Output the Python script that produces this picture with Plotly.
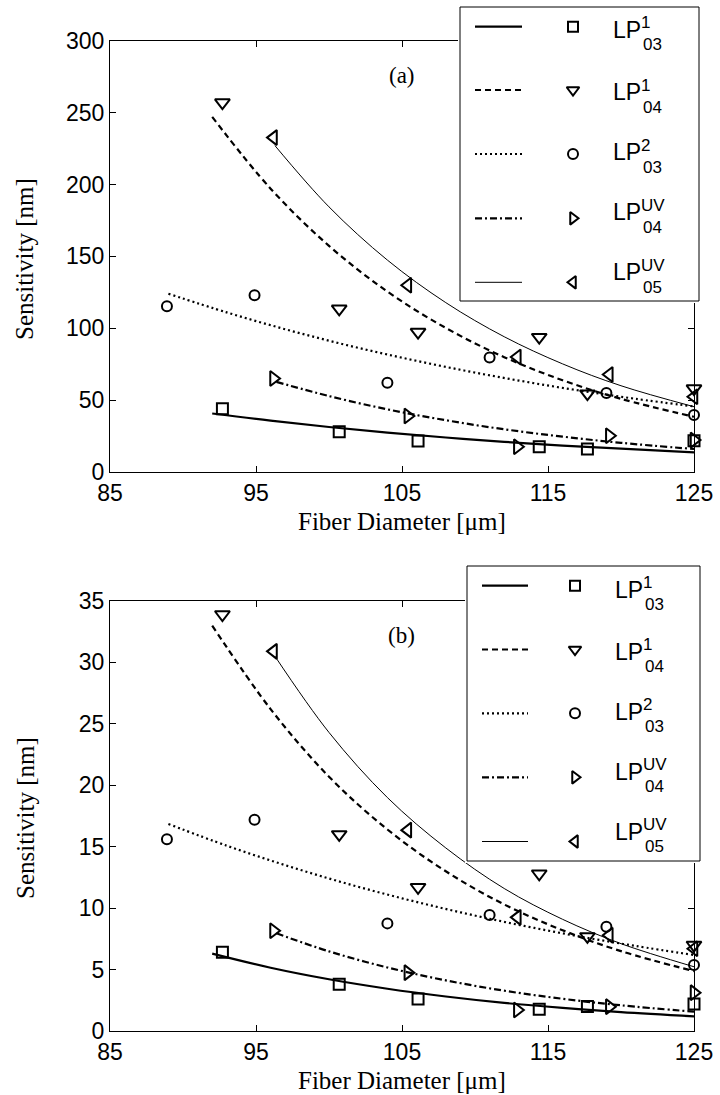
import plotly.graph_objects as go

# ---------------- data ----------------
# measured points, panel (a)
a_x_lp031 = [92.7, 100.7, 106.1, 114.4, 117.7, 125.0]
a_y_lp031 = [44.0, 28.0, 21.5, 17.6, 16.0, 21.7]
a_x_lp041 = [92.7, 100.7, 106.1, 114.4, 117.7, 125.0]
a_y_lp041 = [257.0, 113.5, 97.3, 93.8, 54.5, 58.0]
a_x_lp032 = [88.9, 94.9, 104.0, 111.0, 119.0, 125.0]
a_y_lp032 = [115.3, 122.9, 62.0, 79.6, 55.0, 39.6]
a_x_uv = [96.2, 105.4, 112.9, 119.2, 125.0]
a_y_lp04uv = [65.0, 39.0, 17.6, 25.2, 22.2]
a_y_lp05uv = [232.6, 129.9, 80.0, 67.8, 52.3]

# fitted curves, panel (a)
a_fx_lp031 = [92, 96, 100, 104, 108, 112, 116, 120, 125]
a_fy_lp031 = [40.7, 35.7, 31.3, 27.4, 24.0, 21.0, 18.4, 16.2, 13.7]
a_fx_lp041 = [92, 96, 100, 104, 108, 112, 116, 120, 125]
a_fy_lp041 = [247.0, 197.1, 157.3, 125.5, 100.2, 79.9, 63.8, 50.9, 38.4]
a_fx_lp032 = [89, 93, 97, 101, 105, 109, 113, 117, 121, 125]
a_fy_lp032 = [124.0, 111.0, 99.3, 88.8, 79.5, 71.1, 63.6, 56.9, 50.9, 45.6]
a_fx_lp04uv = [96.4, 100, 104, 108, 112, 116, 120, 125]
a_fy_lp04uv = [62.7, 52.8, 43.6, 36.0, 29.7, 24.6, 20.3, 16.0]
a_fx_lp05uv = [96.3, 100, 104, 108, 112, 116, 120, 125]
a_fy_lp05uv = [227.0, 184.4, 147.4, 117.8, 94.1, 75.2, 60.0, 45.4]

# measured points, panel (b)
b_x_lp031 = [92.7, 100.7, 106.1, 114.4, 117.7, 125.0]
b_y_lp031 = [6.4, 3.8, 2.6, 1.77, 2.0, 2.2]
b_x_lp041 = [92.7, 100.7, 106.1, 114.4, 117.7, 125.0]
b_y_lp041 = [33.9, 16.0, 11.7, 12.8, 7.7, 7.0]
b_x_lp032 = [88.9, 94.9, 104.0, 111.0, 119.0, 125.0]
b_y_lp032 = [15.6, 17.2, 8.76, 9.44, 8.49, 5.37]
b_x_uv = [96.2, 105.4, 112.9, 119.2, 125.0]
b_y_lp04uv = [8.16, 4.75, 1.71, 1.98, 3.12]
b_y_lp05uv = [30.9, 16.35, 9.25, 7.8, 6.7]

# fitted curves, panel (b)
b_fx_lp031 = [92, 96, 100, 104, 108, 112, 116, 120, 125]
b_fy_lp031 = [6.3, 5.15, 4.21, 3.44, 2.81, 2.29, 1.88, 1.53, 1.19]
b_fx_lp041 = [92, 96, 100, 104, 108, 112, 116, 120, 125]
b_fy_lp041 = [33.0, 26.2, 20.7, 16.4, 13.0, 10.3, 8.2, 6.5, 4.87]
b_fx_lp032 = [89, 93, 97, 101, 105, 109, 113, 117, 121, 125]
b_fy_lp032 = [16.85, 15.08, 13.5, 12.07, 10.8, 9.66, 8.64, 7.73, 6.92, 6.19]
b_fx_lp04uv = [96.4, 100, 104, 108, 112, 116, 120, 125]
b_fy_lp04uv = [7.95, 6.48, 5.17, 4.12, 3.28, 2.62, 2.09, 1.57]
b_fx_lp05uv = [96.3, 100, 104, 108, 112, 116, 120, 125]
b_fy_lp05uv = [30.5, 24.3, 19.0, 14.9, 11.6, 9.09, 7.11, 5.23]

x_ticks = [85, 95, 105, 115, 125]
a_y_ticks = [0, 50, 100, 150, 200, 250, 300]
b_y_ticks = [0, 5, 10, 15, 20, 25, 30, 35]

mode_names = ["LP03_1", "LP04_1", "LP03_2", "LP04_UV", "LP05_UV"]
mode_sup = ["1", "1", "2", "UV", "UV"]
mode_sub = ["03", "04", "03", "04", "05"]

# ---------------- styles ----------------
W, H = 720, 1095
BLACK = "#000000"
SANS = "Liberation Sans, Arial, sans-serif"
SERIF = "Liberation Serif, Times New Roman, serif"

line_style = {
    "LP03_1": dict(color=BLACK, width=2.2, dash="solid"),
    "LP04_1": dict(color=BLACK, width=2.2, dash="6px,4px"),
    "LP03_2": dict(color=BLACK, width=2.2, dash="2px,3px"),
    "LP04_UV": dict(color=BLACK, width=2.2, dash="7px,3px,2px,3px"),
    "LP05_UV": dict(color=BLACK, width=1, dash="solid"),
}
marker_sym = {
    "LP03_1": "square-open",
    "LP04_1": "triangle-down-open",
    "LP03_2": "circle-open",
    "LP04_UV": "triangle-right-open",
    "LP05_UV": "triangle-left-open",
}
marker_size = {"LP03_1": 11, "LP04_1": 13, "LP03_2": 10, "LP04_UV": 13, "LP05_UV": 13}
legend_marker_size = {"LP03_1": 10, "LP04_1": 11, "LP03_2": 10, "LP04_UV": 11, "LP05_UV": 11}


def px(x):
    return x / W


def py(y):
    return 1 - y / H


fig = go.Figure()

panels = [
    dict(xa="x", ya="y",
         pts=[(a_x_lp031, a_y_lp031), (a_x_lp041, a_y_lp041), (a_x_lp032, a_y_lp032),
              (a_x_uv, a_y_lp04uv), (a_x_uv, a_y_lp05uv)],
         fits=[(a_fx_lp031, a_fy_lp031), (a_fx_lp041, a_fy_lp041), (a_fx_lp032, a_fy_lp032),
               (a_fx_lp04uv, a_fy_lp04uv), (a_fx_lp05uv, a_fy_lp05uv)]),
    dict(xa="x2", ya="y2",
         pts=[(b_x_lp031, b_y_lp031), (b_x_lp041, b_y_lp041), (b_x_lp032, b_y_lp032),
              (b_x_uv, b_y_lp04uv), (b_x_uv, b_y_lp05uv)],
         fits=[(b_fx_lp031, b_fy_lp031), (b_fx_lp041, b_fy_lp041), (b_fx_lp032, b_fy_lp032),
               (b_fx_lp04uv, b_fy_lp04uv), (b_fx_lp05uv, b_fy_lp05uv)]),
]

for p in panels:
    for name, (fx, fy) in zip(mode_names, p["fits"]):
        fig.add_trace(go.Scatter(x=fx, y=fy, mode="lines", line=dict(shape="spline", **line_style[name]),
                                 xaxis=p["xa"], yaxis=p["ya"], showlegend=False, hoverinfo="skip"))
    for name, (mx, my) in zip(mode_names, p["pts"]):
        fig.add_trace(go.Scatter(x=mx, y=my, mode="markers", cliponaxis=False,
                                 marker=dict(symbol=marker_sym[name], size=marker_size[name], color=BLACK,
                                             line=dict(color=BLACK, width=2)),
                                 xaxis=p["xa"], yaxis=p["ya"], showlegend=False, name=name))

# ---------------- legends (drawn in overlay subplots, pixel coordinates) ----------------
legends = [
    dict(xa="x3", ya="y3", box=(460, 699, 7, 301), line_x=(475, 522), mark_x=573,
         text_x=611, sup_x=639, sub_x=641, rows=[26.7, 90, 154, 218.3, 282.3],
         text_rows=[30, 92.5, 152.5, 212.5, 272.5]),
    dict(xa="x4", ya="y4", box=(467, 700, 566, 861), line_x=(482, 528), mark_x=575,
         text_x=613, sup_x=641, sub_x=643, rows=[585.7, 649.5, 713.3, 777.3, 841.5],
         text_rows=[589.5, 652, 712, 772, 832]),
]

annotations = []
for lg in legends:
    x0, x1, y0, y1 = lg["box"]
    fig.add_trace(go.Scatter(x=[x0, x1, x1, x0, x0], y=[y0, y0, y1, y1, y0], mode="lines",
                             fill="toself", fillcolor="white", line=dict(color=BLACK, width=1),
                             xaxis=lg["xa"], yaxis=lg["ya"], showlegend=False, hoverinfo="skip"))
    for i, name in enumerate(mode_names):
        yc = lg["rows"][i]
        fig.add_trace(go.Scatter(x=list(lg["line_x"]), y=[yc, yc], mode="lines", line=line_style[name],
                                 xaxis=lg["xa"], yaxis=lg["ya"], showlegend=False, hoverinfo="skip"))
        fig.add_trace(go.Scatter(x=[lg["mark_x"]], y=[yc], mode="markers", cliponaxis=False,
                                 marker=dict(symbol=marker_sym[name], size=legend_marker_size[name],
                                             color=BLACK, line=dict(color=BLACK, width=2)),
                                 xaxis=lg["xa"], yaxis=lg["ya"], showlegend=False, hoverinfo="skip"))
        ty = lg["text_rows"][i]
        annotations.append(dict(text="LP", x=lg["text_x"], y=ty, xref=lg["xa"], yref=lg["ya"],
                                xanchor="left", yanchor="middle", showarrow=False,
                                font=dict(family=SANS, size=23, color=BLACK)))
        annotations.append(dict(text=mode_sup[i], x=lg["sup_x"], y=ty - 7.2, xref=lg["xa"], yref=lg["ya"],
                                xanchor="left", yanchor="middle", showarrow=False,
                                font=dict(family=SANS, size=17, color=BLACK)))
        annotations.append(dict(text=mode_sub[i], x=lg["sub_x"], y=ty + 14.8, xref=lg["xa"], yref=lg["ya"],
                                xanchor="left", yanchor="middle", showarrow=False,
                                font=dict(family=SANS, size=17, color=BLACK)))

# panel labels and axis titles
for lab, (lx, ly) in zip(["(a)", "(b)"], [(402, 76), (401, 635)]):
    annotations.append(dict(text=lab, x=px(lx), y=py(ly), xref="paper", yref="paper", showarrow=False,
                            xanchor="center", yanchor="middle", font=dict(family=SERIF, size=23, color=BLACK)))
for ty in [521, 1080]:
    annotations.append(dict(text="Fiber Diameter [μm]", x=px(402), y=py(ty), xref="paper", yref="paper",
                            showarrow=False, xanchor="center", yanchor="middle",
                            font=dict(family=SERIF, size=25, color=BLACK)))
for ty in [259, 818]:
    annotations.append(dict(text="Sensitivity [nm]", x=px(25), y=py(ty), xref="paper", yref="paper",
                            showarrow=False, xanchor="center", yanchor="middle", textangle=-90,
                            font=dict(family=SERIF, size=25, color=BLACK)))

axis_common = dict(showline=True, linecolor=BLACK, linewidth=1, mirror="ticks", ticks="inside",
                   ticklen=6, tickwidth=1, tickcolor=BLACK, showgrid=False, zeroline=False,
                   automargin=False, tickfont=dict(family=SANS, size=23, color=BLACK), fixedrange=True)
hidden = dict(visible=False, showgrid=False, zeroline=False, automargin=False, fixedrange=True)

fig.update_layout(
    template="none",
    width=W, height=H, margin=dict(l=0, r=0, t=0, b=0, pad=0), autosize=False,
    paper_bgcolor="white", plot_bgcolor="white", showlegend=False,
    xaxis=dict(domain=[px(110), px(694)], range=[85, 125], tickvals=x_ticks, anchor="y", **axis_common),
    yaxis=dict(domain=[py(472), py(40.7)], range=[0, 300], tickvals=a_y_ticks, anchor="x", **axis_common),
    xaxis2=dict(domain=[px(110), px(694)], range=[85, 125], tickvals=x_ticks, anchor="y2", **axis_common),
    yaxis2=dict(domain=[py(1031), py(601)], range=[0, 35], tickvals=b_y_ticks, anchor="x2", **axis_common),
    xaxis3=dict(domain=[px(458), px(701)], range=[458, 701], anchor="y3", **hidden),
    yaxis3=dict(domain=[py(303), py(5)], range=[303, 5], anchor="x3", **hidden),
    xaxis4=dict(domain=[px(465), px(702)], range=[465, 702], anchor="y4", **hidden),
    yaxis4=dict(domain=[py(863), py(564)], range=[863, 564], anchor="x4", **hidden),
    annotations=annotations,
)

fig.write_html("out.html")
